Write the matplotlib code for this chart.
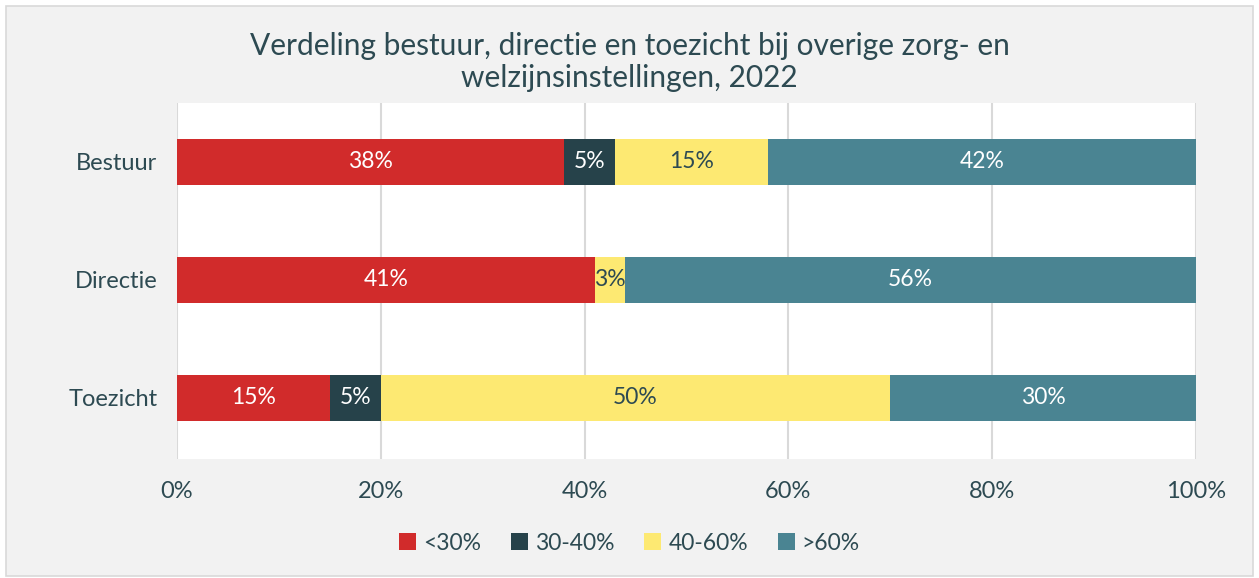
import matplotlib.pyplot as plt
from matplotlib.patches import Rectangle
import numpy as np

plt.rcParams["font.family"] = ["Lato", "DejaVu Sans"]

categories = ["Bestuur", "Directie", "Toezicht"]
groups = ["<30%", "30-40%", "40-60%", ">60%"]
values = {
    "<30%": [38, 41, 15],
    "30-40%": [5, 0, 5],
    "40-60%": [15, 3, 50],
    ">60%": [42, 56, 30],
}
colors = ["#d12b2b", "#26424a", "#fde972", "#4a8492"]
label_colors = ["white", "white", "#2d4a52", "white"]
text_color = "#2d4a52"

fig = plt.figure(figsize=(12.59, 5.78), dpi=100)
fig.patch.set_facecolor("white")
fig.patches.append(Rectangle((0.005, 0.003), 0.99, 0.987, transform=fig.transFigure,
                             facecolor="#f2f2f2", edgecolor="#d9d9d9", linewidth=1.2,
                             zorder=-1))

ax = fig.add_axes([177 / 1259, 1 - 459 / 578, (1196 - 177) / 1259, (459 - 103) / 578])
ax.set_facecolor("white")

y = np.arange(len(categories))
left = np.zeros(len(categories))
for g, c, tc in zip(groups, colors, label_colors):
    vals = np.array(values[g], dtype=float)
    bars = ax.barh(y, vals, left=left, height=0.39, color=c, label=g, zorder=3)
    for b, v in zip(bars, vals):
        if v > 0:
            ax.text(b.get_x() + b.get_width() / 2, b.get_y() + b.get_height() / 2,
                    "%d%%" % v, ha="center", va="center", color=tc, fontsize=16.5,
                    zorder=4)
    left += vals

ax.set_xlim(0, 100)
ax.set_ylim(2.52, -0.5)
ax.set_yticks(y)
ax.set_yticklabels(categories)
ax.set_xticks(range(0, 101, 20))
ax.set_xticklabels(["%d%%" % t for t in range(0, 101, 20)])
ax.tick_params(axis="both", length=0, labelsize=17, colors=text_color)
ax.tick_params(axis="x", pad=16)
ax.tick_params(axis="y", pad=14)
ax.grid(axis="x", color="#d9d9d9", linewidth=1.5, zorder=0)
for s in ax.spines.values():
    s.set_visible(False)

fig.text(0.5, 0.893, "Verdeling bestuur, directie en toezicht bij overige zorg- en\nwelzijnsinstellingen, 2022",
         ha="center", va="center", fontsize=21.5, color=text_color, linespacing=1.2)

fig.legend(loc="center", bbox_to_anchor=(0.5, 1 - 543 / 578), ncol=4, frameon=False,
           prop={"size": 16.5}, labelcolor=text_color,
           handlelength=0.75, handleheight=0.75, handletextpad=0.3, columnspacing=1.3)

plt.savefig("out.png", dpi=100, facecolor=fig.get_facecolor())
plt.close()
